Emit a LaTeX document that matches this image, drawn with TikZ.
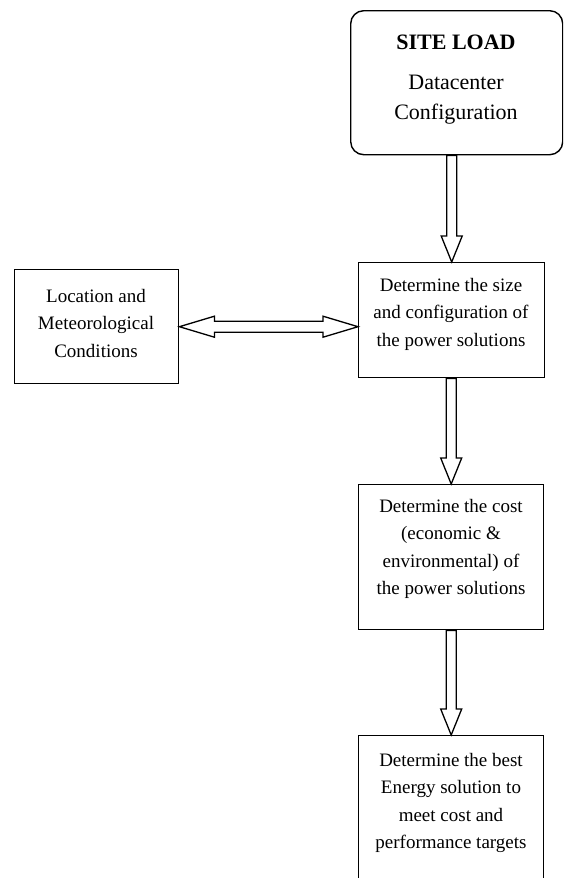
\documentclass[tikz,border=0pt]{standalone}
\usepackage{fontspec}
\setmainfont{Liberation Serif}
\usetikzlibrary{calc}
\begin{document}
\begin{tikzpicture}[x=1pt,y=-1pt,
  boxline/.style={draw=black,line width=1.4pt},
  txt/.style={align=center,inner sep=0pt,font=\fontsize{19}{27.5}\selectfont},
  toptxt/.style={align=center,inner sep=0pt,font=\fontsize{22}{30}\selectfont},
  blockarrow/.style={draw=black,line width=1.3pt,fill=white,line join=miter}]
\useasboundingbox (0,0) rectangle (563,878);
\clip (0,0) rectangle (563,878);
% boxes
\node[boxline,rounded corners=13pt,minimum width=212pt,minimum height=144pt,anchor=north west] (b1) at (350,10) {};
\node[boxline,minimum width=186pt,minimum height=115pt,anchor=north west] (b2) at (358,262) {};
\node[boxline,minimum width=164pt,minimum height=114pt,anchor=north west] (lb) at (14,269) {};
\node[boxline,minimum width=185pt,minimum height=145pt,anchor=north west] (b3) at (358,484) {};
\node[boxline,minimum width=185pt,minimum height=170pt,anchor=north west] (b4) at (358,735) {};
% texts
\node[toptxt] (t1) at (456,80) {\textbf{SITE LOAD}\\[10pt]Datacenter\\Configuration};
\node[txt] (t2) at (451,314) {Determine the size\\and configuration of\\the power solutions};
\node[txt] (tl) at (96,323) {Location and\\Meteorological\\Conditions};
\node[txt] (t3) at (451,549) {Determine the cost\\(economic \&\\environmental) of\\the power solutions};
\node[txt] (t4) at (451,803) {Determine the best\\Energy solution to\\meet cost and\\performance targets};
% vertical block arrows
\foreach \a/\b in {b1/b2,b2/b3,b3/b4}{
  \draw[blockarrow]
    ($(\a.south -| \b.north)+(-5,0)$) -- ($(\b.north)+(-5,-26)$) -- ($(\b.north)+(-10.5,-26)$)
    -- (\b.north) -- ($(\b.north)+(10.5,-26)$) -- ($(\b.north)+(5,-26)$)
    -- ($(\a.south -| \b.north)+(5,0)$) -- cycle;
}
% horizontal double block arrow
\coordinate (hr) at (b2.west |- lb.east);
\draw[blockarrow]
  (lb.east) -- ($(lb.east)+(35,-10.5)$) -- ($(lb.east)+(35,-5.5)$)
  -- ($(hr)+(-35,-5.5)$) -- ($(hr)+(-35,-10.5)$) -- (hr)
  -- ($(hr)+(-35,10.5)$) -- ($(hr)+(-35,5.5)$)
  -- ($(lb.east)+(35,5.5)$) -- ($(lb.east)+(35,10.5)$) -- cycle;
\end{tikzpicture}
\end{document}
